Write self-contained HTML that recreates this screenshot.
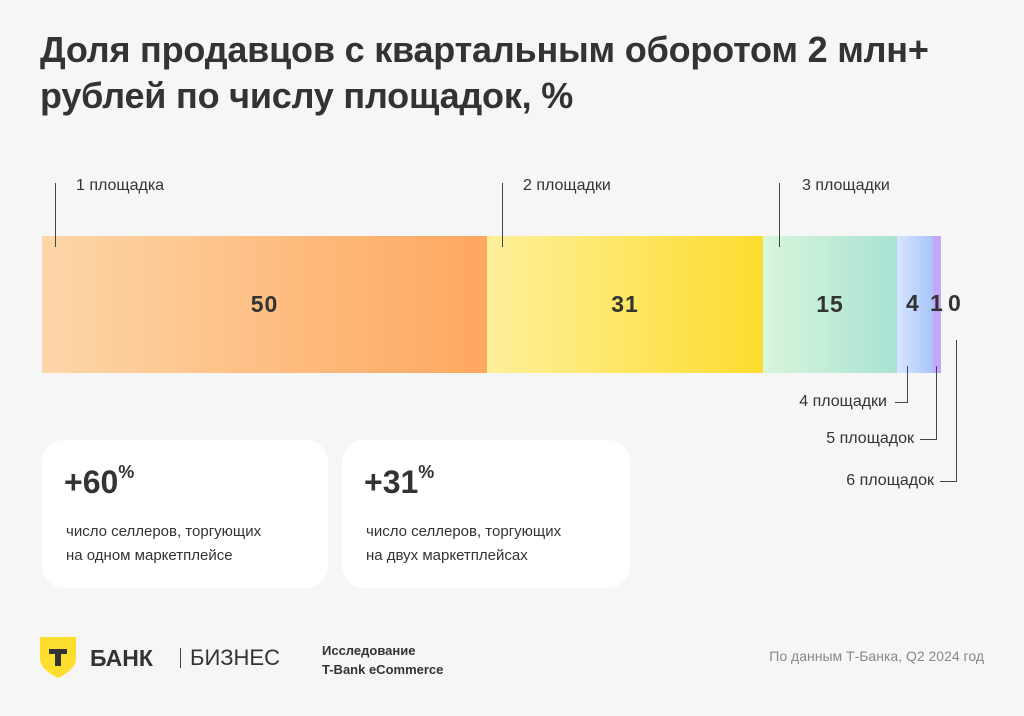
<!DOCTYPE html>
<html><head><meta charset="utf-8"><style>
body{margin:0;width:1024px;height:716px;background:#f6f6f7;font-family:"Liberation Sans",sans-serif;color:#333;position:relative;overflow:hidden}
.a{position:absolute}
h1{position:absolute;left:40px;top:27px;margin:0;font-size:36px;line-height:46px;font-weight:bold;color:#333;letter-spacing:-0.2px}
.lbl{font-size:16px;color:#333}
.seg{position:absolute;top:236px;height:137px;display:flex;align-items:center;justify-content:center;font-weight:bold;font-size:23px;color:#333;letter-spacing:1px}
.num{position:absolute;top:290px;font-weight:bold;font-size:23px;color:#333}
.ln{position:absolute;background:#444}
.card{position:absolute;top:440px;height:148px;background:#fff;border-radius:22px}
.big{position:absolute;left:22px;top:24px;font-size:32px;font-weight:bold}
.big sup{font-size:18px;vertical-align:top;position:relative;top:-2px}
.sm{position:absolute;left:24px;top:80px;font-size:15px;line-height:24px}
</style></head><body>
<h1>Доля продавцов с квартальным оборотом 2 млн+<br>рублей по числу площадок, %</h1>
<div class="seg" style="left:42px;width:445px;background:linear-gradient(90deg,#fdd6a8,#fea75f)">50</div>
<div class="seg" style="left:487px;width:276px;background:linear-gradient(90deg,#fef09a,#fddc2f)">31</div>
<div class="seg" style="left:763px;width:134px;background:linear-gradient(90deg,#d8f6da,#a8e2d3)">15</div>
<div class="seg" style="left:897px;width:36px;background:linear-gradient(90deg,#d7e5fe,#a8c6fb)"></div>
<div class="seg" style="left:933px;width:8px;background:#c4a6fb"></div>
<div class="num" style="left:906px">4</div>
<div class="num" style="left:930px">1</div>
<div class="num" style="left:948px">0</div>
<div class="ln" style="left:55px;top:183px;width:1px;height:64px"></div>
<div class="a lbl" style="left:76px;top:177px">1 площадка</div>
<div class="ln" style="left:502px;top:183px;width:1px;height:64px"></div>
<div class="a lbl" style="left:523px;top:177px">2 площадки</div>
<div class="ln" style="left:779px;top:183px;width:1px;height:64px"></div>
<div class="a lbl" style="left:802px;top:177px">3 площадки</div>
<div class="ln" style="left:907px;top:366px;width:1px;height:36px"></div>
<div class="ln" style="left:895px;top:402px;width:13px;height:1px"></div>
<div class="a lbl" style="right:137px;top:393px">4 площадки</div>
<div class="ln" style="left:936px;top:366px;width:1px;height:73px"></div>
<div class="ln" style="left:920px;top:439px;width:17px;height:1px"></div>
<div class="a lbl" style="right:110px;top:430px">5 площадок</div>
<div class="ln" style="left:956px;top:340px;width:1px;height:141px"></div>
<div class="ln" style="left:940px;top:481px;width:17px;height:1px"></div>
<div class="a lbl" style="right:90px;top:472px">6 площадок</div>
<div class="card" style="left:42px;width:286px"><div class="big">+60<sup>%</sup></div><div class="sm">число селлеров, торгующих<br>на одном маркетплейсе</div></div>
<div class="card" style="left:342px;width:288px"><div class="big">+31<sup>%</sup></div><div class="sm">число селлеров, торгующих<br>на двух маркетплейсах</div></div>
<svg class="a" style="left:40px;top:637px" width="36" height="42"><path d="M0 0H36V22Q36 32 18 41Q0 32 0 22Z" fill="#fddd2d"/><path d="M9 12H27V17H21V29H15V17H9Z" fill="#333"/></svg>
<div class="a" style="left:90px;top:645px;font-size:23px;font-weight:bold;color:#333">БАНК</div>
<div class="ln" style="left:180px;top:648px;width:1px;height:20px"></div>
<div class="a" style="left:190px;top:645px;font-size:22px;color:#333">БИЗНЕС</div>
<div class="a" style="left:322px;top:641px;font-size:13px;font-weight:bold;line-height:19px">Исследование<br>T-Bank eCommerce</div>
<div class="a" style="right:40px;top:648px;font-size:14px;color:#888">По данным Т-Банка, Q2 2024 год</div>
</body></html>
